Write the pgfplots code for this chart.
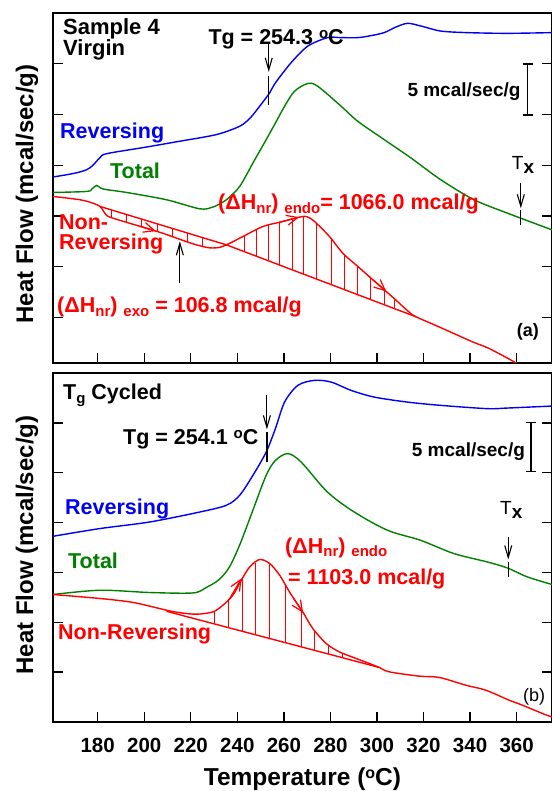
\documentclass[border=0pt]{standalone}
\usepackage{fontspec}
\setmainfont{Liberation Sans}
\usepackage{pgfplots}
\pgfplotsset{compat=1.18}
\usetikzlibrary{arrows.meta}

\definecolor{cblue}{RGB}{0,0,245}
\definecolor{cgreen}{RGB}{0,128,0}
\definecolor{cred}{RGB}{255,0,0}

\newcommand{\lab}{\fontsize{21.5}{21.5}\selectfont\bfseries}
\newcommand{\sub}[1]{\raisebox{-0.3ex}{\fontsize{15}{15}\selectfont #1}}
\newcommand{\degC}{\raisebox{0.55ex}{\fontsize{15}{15}\selectfont o}C}

\pgfplotsset{
  dsc/.style={
    scale only axis, width=499pt,
    xmin=160.8, xmax=375.2,
    xtick={180,200,...,360},
    ytick={1,...,6}, yticklabels={},
    xtick pos=lower, ytick pos=both,
    tick align=inside, major tick length=10pt,
    axis line style={line width=1.6pt},
    every tick/.style={black, line width=1.3pt},
    /pgf/number format/assume math mode=true,
    xticklabel style={font=\fontsize{20.5}{20.5}\selectfont\bfseries, yshift=-13pt},
  },
  curve/.style={line width=1.4pt, smooth},
  hatch/.style={cred, line width=1pt, forget plot},
  base/.style={cred, line width=1.4pt},
}
\tikzset{
  txt/.style={anchor=base west, inner sep=0pt, font=\lab},
  tgarrow/.style={-{Straight Barb[length=12pt,width=7pt]}, line width=1.1pt, black},
  redarrow/.style={-{Straight Barb[length=11pt,width=10pt]}, line width=1.2pt, cred},
}

\begin{document}
\begin{tikzpicture}[x=1pt, y=1pt]

% ---------------- (a) Sample 4, virgin ----------------
\begin{axis}[dsc, height=350pt, ymin=0.1, ymax=7.0, xticklabels={},
  at={(53pt,428pt)}, anchor=south west]
% reversing
\addplot[curve, cblue] coordinates {
(160.85,3.767) (170,3.84) (175.3,3.911) (178,4.0) (181.0,4.15) (183.9,4.227)
(200,4.35) (215,4.47) (231.0,4.603) (241.0,4.767) (245.5,4.93) (249.6,5.162)
(253.9,5.427) (256.4,5.625) (263.1,6.02) (270.3,6.348) (278.8,6.514) (284.6,6.514)
(291.7,6.514) (297,6.55) (303.1,6.613) (308,6.72) (313.1,6.796) (318.9,6.743)
(327.4,6.644) (338.8,6.613) (356.0,6.599) (375.2,6.613)};
% total
\addplot[curve, cgreen] coordinates {
(160.85,3.462) (175.3,3.482) (177.5,3.53) (179.6,3.601) (182.4,3.530) (192.4,3.462)
(209.6,3.318) (223.8,3.140) (229.5,3.174) (235.3,3.318) (241.0,3.581) (246.7,4.043)
(252.4,4.504) (256.4,4.834) (260.3,5.162) (264.6,5.459) (270.3,5.611) (274.5,5.557)
(284.6,5.162) (291.7,4.866) (303.1,4.504) (314.6,4.142) (327.4,3.713) (341.7,3.318)
(356.0,3.055) (367.4,2.858) (375.2,2.725)};
% non-reversing
\addplot[curve, cred] coordinates {
(160.85,3.383) (172.4,3.318) (178.1,3.249) (181.0,3.186) (182.4,3.101) (184.0,3.002)
(187.4,2.943) (193.8,2.854) (201.0,2.755) (208.1,2.656) (215.3,2.538) (222.4,2.429)
(228.1,2.370) (232.4,2.379) (235.3,2.429) (238.8,2.508) (242.4,2.593) (251.0,2.791)
(259.5,2.889) (268.1,2.988) (271.0,2.962) (273.9,2.858) (279.6,2.593) (285.3,2.265)
(291.0,2.034) (296.7,1.802) (302.4,1.573) (308.1,1.342) (310.9,1.223) (313.8,1.105)
(316.7,1.012) (328.1,0.783) (341.0,0.518) (348.1,0.387) (359.6,0.103) (366,-0.12)};
% baselines
\addplot[base] coordinates {(181.0,3.186) (235.3,2.429)};
\addplot[base] coordinates {(235.3,2.429) (316.7,1.012)};
% hatching, exo
\addplot[hatch] coordinates {(186,3.116) (186,2.967)};
\addplot[hatch] coordinates {(192.5,3.026) (192.5,2.872)};
\addplot[hatch] coordinates {(199,2.935) (199,2.782)};
\addplot[hatch] coordinates {(205.5,2.844) (205.5,2.692)};
\addplot[hatch] coordinates {(212,2.754) (212,2.592)};
\addplot[hatch] coordinates {(218.5,2.663) (218.5,2.489)};
\addplot[hatch] coordinates {(225,2.573) (225,2.402)};
% hatching, endo
\addplot[hatch] coordinates {(243.2,2.291) (243.2,2.611)};
\addplot[hatch] coordinates {(248.1,2.206) (248.1,2.724)};
\addplot[hatch] coordinates {(253.4,2.114) (253.4,2.819)};
\addplot[hatch] coordinates {(258.1,2.032) (258.1,2.873)};
\addplot[hatch] coordinates {(263.6,1.936) (263.6,2.936)};
\addplot[hatch] coordinates {(268.4,1.853) (268.4,2.985)};
\addplot[hatch] coordinates {(274.1,1.754) (274.1,2.849)};
\addplot[hatch] coordinates {(280.3,1.646) (280.3,2.553)};
\addplot[hatch] coordinates {(286.0,1.546) (286.0,2.237)};
\addplot[hatch] coordinates {(291.7,1.447) (291.7,2.006)};
\addplot[hatch] coordinates {(297.4,1.348) (297.4,1.774)};
\addplot[hatch] coordinates {(303.1,1.249) (303.1,1.545)};
\addplot[hatch] coordinates {(307.7,1.169) (307.7,1.358)};
% annotations
\draw[redarrow] (axis cs:198,2.80) -- (axis cs:205,2.70);
\draw[redarrow] (axis cs:258,2.875) -- (axis cs:266.5,2.975);
\draw[redarrow] (axis cs:298,1.75) -- (axis cs:304,1.51);
\draw[tgarrow] (axis cs:253.5,6.38) -- (axis cs:253.5,5.84);
\draw[black, line width=1.3pt] (axis cs:253.5,5.755) -- (axis cs:253.5,5.196);
\draw[tgarrow] (axis cs:361.8,3.648) -- (axis cs:361.8,3.15);
\draw[black, line width=1.3pt] (axis cs:361.8,3.117) -- (axis cs:361.8,2.824);
\draw[tgarrow] (axis cs:215.3,1.678) -- (axis cs:215.3,2.50);
\end{axis}

% ---------------- (b) Tg cycled ----------------
\begin{axis}[dsc, height=349pt, ymin=0, ymax=7,
  at={(53pt,69pt)}, anchor=south west]
\addplot[curve, cblue] coordinates {
(160.85,3.725) (181.0,3.880) (202.4,4.012) (223.9,4.212) (235.3,4.347) (241.0,4.547)
(246.7,4.948) (252.4,5.415) (256.4,5.89) (260.3,6.417) (266.0,6.752) (273.1,6.852)
(280.3,6.818) (288.9,6.651) (298.8,6.517) (313.0,6.417) (327.3,6.351) (347.4,6.285)
(356.0,6.297) (375.2,6.337)};
\addplot[curve, cgreen] coordinates {
(160.85,2.557) (181.0,2.643) (202.4,2.597) (221.0,2.589) (226.7,2.70) (232,2.85)
(236.5,3.10) (241.0,3.55) (246.7,4.25) (252.4,4.948) (256.4,5.248) (261.7,5.383)
(267.4,5.214) (278.7,4.613) (290.2,4.212) (304.5,3.846) (318.7,3.645) (333.0,3.379)
(347.4,3.210) (356.0,3.090) (364.6,2.910) (375.2,2.758)};
\addplot[curve, cred] coordinates {
(160.85,2.557) (181.0,2.477) (195.3,2.397) (209.6,2.242) (215.3,2.192) (222.4,2.162)
(229.5,2.208) (233.8,2.343) (238.1,2.543) (241.7,2.844) (245.3,3.110) (249.6,3.259)
(253.9,3.178) (258.2,2.944) (262.4,2.609) (268.1,2.208) (272.4,1.876) (278.2,1.575)
(283.8,1.407) (291.0,1.275) (296.7,1.174) (301.0,1.094) (305.3,1.006) (318.1,0.920)
(326.7,0.894) (338.1,0.739) (346.7,0.639) (356.7,0.439) (362.4,0.339) (371.0,0.172)
(375.2,0.10)};
\addplot[base] coordinates {(209.6,2.22) (301.0,1.094)};
\addplot[hatch] coordinates {(230.3,1.965) (230.3,2.233)};
\addplot[hatch] coordinates {(236.4,1.890) (236.4,2.464)};
\addplot[hatch] coordinates {(242.1,1.820) (242.1,2.874)};
\addplot[hatch] coordinates {(247.8,1.749) (247.8,3.197)};
\addplot[hatch] coordinates {(253.8,1.675) (253.8,3.180)};
\addplot[hatch] coordinates {(260.7,1.590) (260.7,2.745)};
\addplot[hatch] coordinates {(267.4,1.508) (267.4,2.257)};
\addplot[hatch] coordinates {(273.1,1.438) (273.1,1.840)};
\addplot[hatch] coordinates {(279.1,1.364) (279.1,1.548)};
\addplot[hatch] coordinates {(285.3,1.287) (285.3,1.380)};
\draw[redarrow] (axis cs:236.5,2.46) -- (axis cs:241.8,2.88);
\draw[redarrow] (axis cs:264,2.49) -- (axis cs:268.3,2.19);
\draw[tgarrow] (axis cs:252.7,6.551) -- (axis cs:252.7,5.87);
\draw[black, line width=1.3pt] (axis cs:252.7,5.816) -- (axis cs:252.7,5.214);
\draw[tgarrow] (axis cs:356.4,3.711) -- (axis cs:356.4,3.26);
\draw[black, line width=1.3pt] (axis cs:356.4,3.210) -- (axis cs:356.4,2.910);
\end{axis}

% ---------------- labels ----------------
\node[rotate=90, anchor=base, inner sep=0pt, font=\fontsize{24}{24}\selectfont\bfseries]
  at (33,597) {Heat Flow (mcal/sec/g)};
\node[rotate=90, anchor=base, inner sep=0pt, font=\fontsize{24}{24}\selectfont\bfseries]
  at (33,246) {Heat Flow (mcal/sec/g)};
\node[anchor=base, inner sep=0pt, font=\fontsize{24.5}{24.5}\selectfont\bfseries]
  at (302.5,5.5) {Temperature (\raisebox{0.55ex}{\fontsize{16}{16}\selectfont o}C)};

% panel (a)
\node[txt, font=\fontsize{22}{22}\selectfont\bfseries] at (63,756) {Sample 4};
\node[txt, font=\fontsize{22}{22}\selectfont\bfseries] at (63,735) {Virgin};
\node[txt] at (208.3,746.7) {Tg = 254.3 \degC};
\node[txt, cblue] at (60,652.7) {Reversing};
\node[txt, cgreen] at (110,612) {Total};
\node[txt, cred] at (59,561) {Non-};
\node[txt, cred] at (59,541) {Reversing};
\node[txt, cred] at (57,478) {(ΔH\sub{nr}) \sub{exo} = 106.8 mcal/g};
\node[txt, cred] at (218,581) {(ΔH\sub{nr}) \sub{endo}= 1066.0 mcal/g};
\node[txt, font=\fontsize{19}{19}\selectfont\bfseries] at (407.3,694.3) {5 mcal/sec/g};
\node[txt, font=\fontsize{18}{18}\selectfont\bfseries] at (516.7,454.3) {(a)};
\node[txt, font=\fontsize{19}{19}\selectfont] at (511.7,621.7) {T\raisebox{-4pt}{\bfseries x}};
\draw[line width=1.3pt] (527.7,727) -- (527.7,676);
\draw[line width=1.3pt] (522.7,727) -- (532.7,727);
\draw[line width=1.3pt] (522.7,676) -- (532.7,676);

% panel (b)
\node[txt] at (63,391) {T\sub{g} Cycled};
\node[txt] at (123,346) {Tg = 254.1 \degC};
\node[txt, cblue] at (65,276) {Reversing};
\node[txt, cgreen] at (68,222.7) {Total};
\node[txt, cred] at (58,151) {Non-Reversing};
\node[txt, cred] at (285,237.7) {(ΔH\sub{nr}) \sub{endo}};
\node[txt, cred] at (288,206) {= 1103.0 mcal/g};
\node[txt, font=\fontsize{19}{19}\selectfont\bfseries] at (411.7,334.3) {5 mcal/sec/g};
\node[txt, font=\fontsize{18}{18}\selectfont] at (523,89.3) {(b)};
\node[txt, font=\fontsize{19}{19}\selectfont] at (500,276) {T\raisebox{-4pt}{\bfseries x}};
\draw[line width=1.3pt] (531,368.3) -- (531,319.3);
\draw[line width=1.3pt] (526,368.3) -- (536,368.3);
\draw[line width=1.3pt] (526,319.3) -- (536,319.3);

\pgfresetboundingbox
\useasboundingbox (0,0) rectangle (551,791);
\end{tikzpicture}
\end{document}
